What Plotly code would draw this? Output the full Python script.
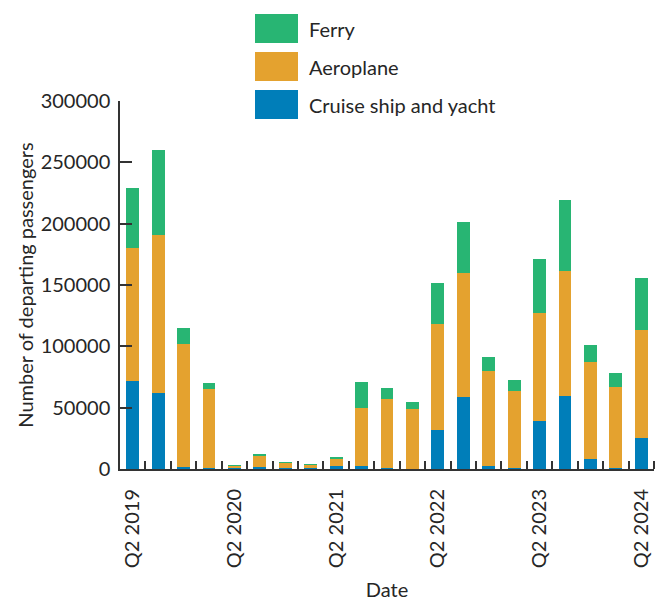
import plotly.graph_objects as go

quarters = ["Q2 2019", "Q3 2019", "Q4 2019", "Q1 2020",
            "Q2 2020", "Q3 2020", "Q4 2020", "Q1 2021",
            "Q2 2021", "Q3 2021", "Q4 2021", "Q1 2022",
            "Q2 2022", "Q3 2022", "Q4 2022", "Q1 2023",
            "Q2 2023", "Q3 2023", "Q4 2023", "Q1 2024",
            "Q2 2024"]
cruise = [72000, 62000, 1500, 1000, 800, 1300, 800, 1000,
          2400, 2400, 1000, 400, 31800, 58700, 2400, 800,
          39100, 59500, 8200, 1200, 25300]
aeroplane = [108400, 128800, 100400, 64200, 1900, 9500, 4100, 2300,
             5700, 47300, 56000, 48500, 86400, 101100, 77500, 62800,
             88100, 101900, 79000, 65600, 88000]
ferry = [48600, 69300, 13000, 4900, 100, 800, 100, 100,
         1700, 21200, 9000, 5700, 33400, 41600, 11400, 9000,
         44000, 57900, 13900, 11500, 42400]
series_names = ["Cruise ship and yacht", "Aeroplane", "Ferry"]
colors = ["#007EB9", "#E4A22F", "#28B573"]
y_ticks = [0, 50000, 100000, 150000, 200000, 250000, 300000]

FONT = "Lato"
TXT = "#262626"
W, H = 655, 601
L, R, T, B = 120, 1, 101, 132
PW, PH = W - L - R, H - T - B

x = list(range(len(quarters)))
label_idx = [i for i, q in enumerate(quarters) if q.startswith("Q2")]

fig = go.Figure()
for name, vals, col in zip(series_names, [cruise, aeroplane, ferry], colors):
    fig.add_trace(go.Bar(x=x, y=vals, name=name, marker=dict(color=col, line=dict(width=0)),
                         showlegend=False))

def px2x(px):
    return (px - L) / PW

def py2y(py):
    return (H - B - py) / PH

shapes = []
annotations = []
legend_items = [("Ferry", colors[2]), ("Aeroplane", colors[1]), ("Cruise ship and yacht", colors[0])]
for k, (name, col) in enumerate(legend_items):
    top = 14 + 38 * k
    shapes.append(dict(type="rect", xref="paper", yref="paper",
                       x0=px2x(255), x1=px2x(298), y0=py2y(top + 29), y1=py2y(top),
                       fillcolor=col, line=dict(width=0)))
    annotations.append(dict(xref="paper", yref="paper", x=px2x(307), y=py2y(top + 14.5),
                            xanchor="left", yanchor="middle", text=name, showarrow=False,
                            font=dict(family=FONT, size=20, color=TXT)))

fig.update_layout(
    width=W, height=H,
    margin=dict(l=L, r=R, t=T, b=B, pad=0, autoexpand=False),
    barmode="stack", bargap=0.49,
    plot_bgcolor="white", paper_bgcolor="white",
    font=dict(family=FONT, size=20, color=TXT),
    shapes=shapes, annotations=annotations,
    showlegend=False,
    xaxis=dict(
        range=[-0.5, len(quarters) - 0.5],
        tickmode="array", tickvals=label_idx, ticktext=[quarters[i] for i in label_idx],
        tickangle=-90, ticks="", showgrid=False, zeroline=False,
        showline=True, linecolor="#333333", linewidth=2,
        ticklabelstandoff=10,
        minor=dict(tickmode="array", tickvals=[i + 0.5 for i in x], ticks="inside",
                   ticklen=8, tickwidth=2, tickcolor="#333333", showgrid=False),
        title=dict(text="Date", font=dict(family=FONT, size=20, color=TXT), standoff=22),
    ),
    yaxis=dict(
        range=[0, 300000], tickmode="array", tickvals=y_ticks,
        ticktext=[str(v) for v in y_ticks],
        ticks="inside", ticklen=12, tickwidth=1.5, tickcolor="#333333",
        showgrid=False, zeroline=False,
        showline=True, linecolor="#333333", linewidth=1.5,
        ticklabelstandoff=4,
        title=dict(text="Number of departing passengers", font=dict(family=FONT, size=20, color=TXT), standoff=2),
    ),
)

fig.write_html("out.html", config={"displayModeBar": False},
               post_script="document.body.style.margin='0';document.body.style.overflow='hidden';")
